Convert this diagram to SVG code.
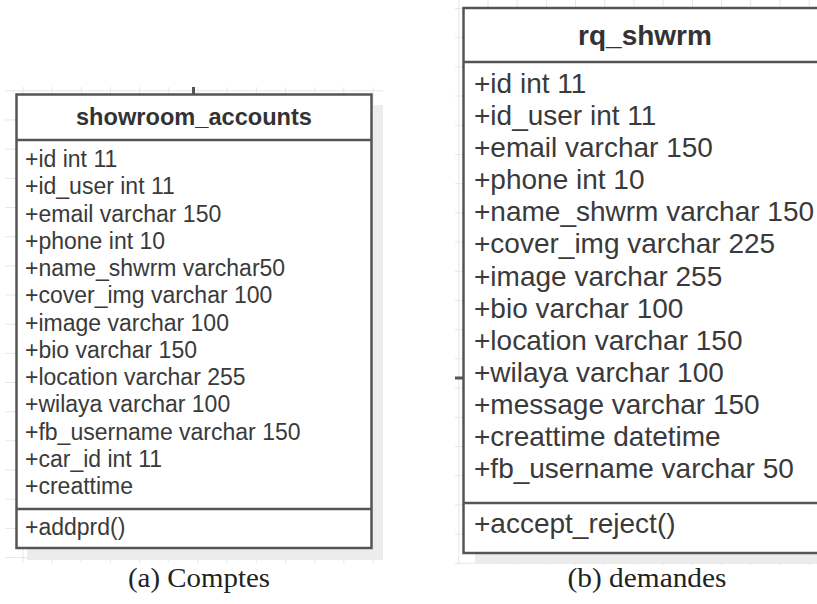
<svg xmlns="http://www.w3.org/2000/svg" width="817" height="604" viewBox="0 0 817 604">
<style>
.box{fill:#ffffff;stroke:#555555;stroke-width:2.5}
.div{stroke:#555555;stroke-width:2.5;fill:none}
.shadow{fill:#ececec}
.t1{font-family:"Liberation Sans",Arial,sans-serif;font-size:23px;fill:#3a3a3a}
.t2{font-family:"Liberation Sans",Arial,sans-serif;font-size:28px;fill:#3a3a3a}
.h1{font-family:"Liberation Sans",Arial,sans-serif;font-size:23.6px;font-weight:bold;fill:#333333;text-anchor:middle}
.h2{font-family:"Liberation Sans",Arial,sans-serif;font-size:28px;font-weight:bold;fill:#333333;text-anchor:middle}
.cap{font-family:"Liberation Serif","Times New Roman",serif;font-size:27px;fill:#222222;text-anchor:middle}
.stub{stroke:#555555;stroke-width:3;fill:none}
</style>
<defs>
<pattern id="gridA" patternUnits="userSpaceOnUse" x="22.5" y="119.5" width="29.17" height="29.17">
<rect x="0" y="0" width="1" height="29.17" fill="#e6e6e6"/>
<rect x="0" y="0" width="29.17" height="1" fill="#e6e6e6"/>
</pattern>
<pattern id="gridB" patternUnits="userSpaceOnUse" x="487.5" y="8" width="29.2" height="29.2">
<rect x="0" y="0" width="1" height="29.2" fill="#e6e6e6"/>
<rect x="0" y="0" width="29.2" height="1" fill="#e6e6e6"/>
</pattern>
</defs>
<rect x="0" y="0" width="817" height="604" fill="#ffffff"/>
<rect x="5" y="87" width="378" height="476" fill="url(#gridA)"/>
<rect x="455" y="0" width="362" height="565" fill="url(#gridB)"/>

<g id="connectors">
<line class="stub" x1="193.5" y1="87" x2="193.5" y2="95"/>
<line class="stub" x1="371" y1="322" x2="383" y2="322"/>
<line class="stub" x1="455" y1="378" x2="463" y2="378"/>
</g>

<g id="showroom_accounts">
<rect class="shadow" x="27" y="105" width="356" height="455"/>
<rect class="box" x="16.5" y="94.5" width="355" height="453.5"/>
<line class="div" x1="16.5" y1="140" x2="371.5" y2="140"/>
<line class="div" x1="16.5" y1="509" x2="371.5" y2="509"/>
<text class="h1" x="194" y="125">showroom_accounts</text>
<text class="t1" x="25" y="167">+id int 11</text>
<text class="t1" x="25" y="194.25">+id_user int 11</text>
<text class="t1" x="25" y="221.5">+email varchar 150</text>
<text class="t1" x="25" y="248.75">+phone int 10</text>
<text class="t1" x="25" y="276">+name_shwrm varchar50</text>
<text class="t1" x="25" y="303.25">+cover_img varchar 100</text>
<text class="t1" x="25" y="330.5">+image varchar 100</text>
<text class="t1" x="25" y="357.75">+bio varchar 150</text>
<text class="t1" x="25" y="385">+location varchar 255</text>
<text class="t1" x="25" y="412.25">+wilaya varchar 100</text>
<text class="t1" x="25" y="439.5">+fb_username varchar 150</text>
<text class="t1" x="25" y="466.75">+car_id int 11</text>
<text class="t1" x="25" y="494">+creattime</text>
<text class="t1" x="25" y="535">+addprd()</text>
</g>

<g id="rq_shwrm">
<rect class="shadow" x="475" y="18" width="360" height="545"/>
<rect class="box" x="463.5" y="8" width="365" height="545"/>
<line class="div" x1="463.5" y1="62" x2="830" y2="62"/>
<line class="div" x1="463.5" y1="503" x2="830" y2="503"/>
<text class="h2" x="645" y="45">rq_shwrm</text>
<text class="t2" x="474" y="93">+id int 11</text>
<text class="t2" x="474" y="125.1">+id_user int 11</text>
<text class="t2" x="474" y="157.2">+email varchar 150</text>
<text class="t2" x="474" y="189.2">+phone int 10</text>
<text class="t2" x="474" y="221.3">+name_shwrm varchar 150</text>
<text class="t2" x="474" y="253.4">+cover_img varchar 225</text>
<text class="t2" x="474" y="285.5">+image varchar 255</text>
<text class="t2" x="474" y="317.6">+bio varchar 100</text>
<text class="t2" x="474" y="349.6">+location varchar 150</text>
<text class="t2" x="474" y="381.7">+wilaya varchar 100</text>
<text class="t2" x="474" y="413.8">+message varchar 150</text>
<text class="t2" x="474" y="445.9">+creattime datetime</text>
<text class="t2" x="474" y="478">+fb_username varchar 50</text>
<text class="t2" x="474" y="533">+accept_reject()</text>
</g>

<g id="captions">
<text class="cap" x="199" y="587" textLength="142" lengthAdjust="spacingAndGlyphs">(a) Comptes</text>
<text class="cap" x="647" y="587" textLength="159" lengthAdjust="spacingAndGlyphs">(b) demandes</text>
</g>
</svg>
